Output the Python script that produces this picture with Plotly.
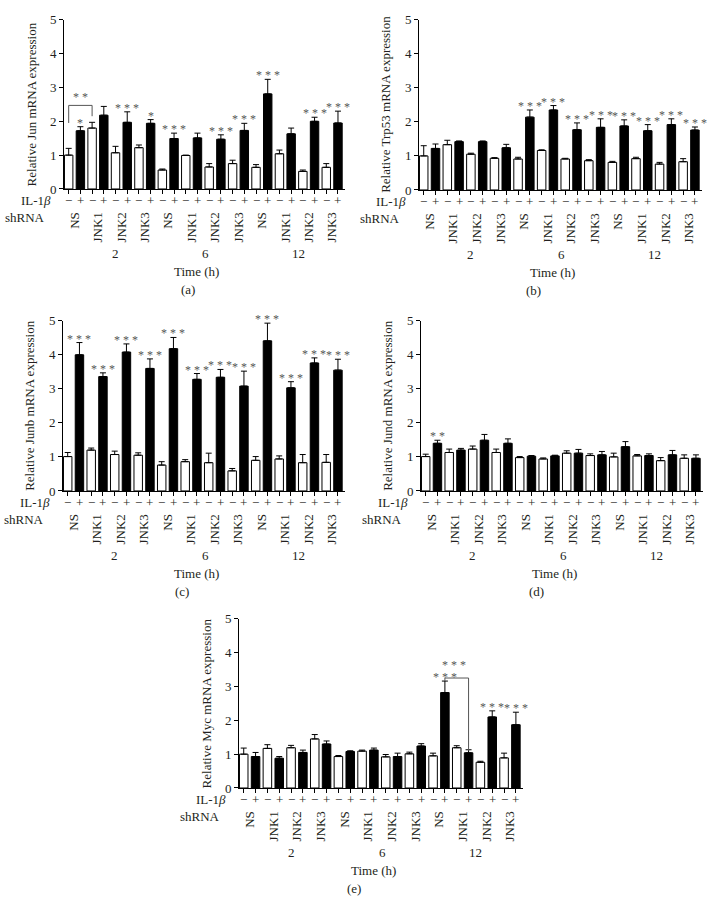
import plotly.graph_objects as go

# ---------------- data ----------------
shrna = ["NS", "JNK1", "JNK2", "JNK3"] * 3
time_h = ["2", "6", "12"]
il1b = ["\u2212", "+"] * 12

jun = [1.00, 1.72, 1.80, 2.18, 1.07, 1.97, 1.22, 1.94, 0.56, 1.49, 0.99, 1.51,
       0.65, 1.47, 0.75, 1.73, 0.64, 2.81, 1.04, 1.63, 0.52, 2.00, 0.64, 1.95]
jun_err = [0.20, 0.12, 0.17, 0.26, 0.19, 0.31, 0.08, 0.11, 0.03, 0.16, 0.01, 0.14,
           0.10, 0.13, 0.10, 0.21, 0.08, 0.43, 0.11, 0.17, 0.04, 0.12, 0.11, 0.35]
jun_sig = ["", "*", "", "", "", "***", "", "*", "", "***", "", "",
           "", "***", "", "***", "", "***", "", "", "", "***", "", "***"]

trp53 = [1.00, 1.22, 1.33, 1.42, 1.05, 1.42, 0.93, 1.24, 0.91, 2.14, 1.16, 2.35,
         0.91, 1.77, 0.86, 1.84, 0.81, 1.88, 0.92, 1.74, 0.76, 1.92, 0.83, 1.76]
trp53_err = [0.30, 0.13, 0.13, 0.02, 0.03, 0.02, 0.02, 0.10, 0.05, 0.21, 0.02, 0.13,
             0.02, 0.20, 0.03, 0.25, 0.03, 0.18, 0.04, 0.18, 0.05, 0.17, 0.09, 0.09]
trp53_sig = ["", "", "", "", "", "", "", "", "", "***", "", "***",
             "", "***", "", "***", "", "***", "", "***", "", "***", "", "***"]

junb = [1.01, 4.00, 1.20, 3.36, 1.07, 4.08, 1.05, 3.60, 0.76, 4.18, 0.86, 3.28,
        0.83, 3.34, 0.59, 3.08, 0.90, 4.41, 0.94, 3.03, 0.83, 3.76, 0.84, 3.55]
junb_err = [0.12, 0.36, 0.06, 0.11, 0.10, 0.24, 0.07, 0.28, 0.10, 0.33, 0.06, 0.17,
            0.28, 0.23, 0.07, 0.44, 0.11, 0.52, 0.09, 0.18, 0.24, 0.15, 0.23, 0.32]
junb_sig = ["", "***"] * 12

jund = [1.01, 1.40, 1.13, 1.20, 1.23, 1.49, 1.13, 1.40, 0.98, 1.02, 0.94, 1.03,
        1.11, 1.11, 1.04, 1.06, 1.00, 1.30, 1.03, 1.04, 0.89, 1.06, 0.96, 0.96]
jund_err = [0.07, 0.09, 0.10, 0.05, 0.09, 0.17, 0.10, 0.13, 0.03, 0.02, 0.03, 0.02,
            0.07, 0.11, 0.05, 0.10, 0.11, 0.15, 0.04, 0.05, 0.09, 0.13, 0.10, 0.10]
jund_sig = ["", "**"] + [""] * 22

myc = [1.00, 0.93, 1.17, 0.88, 1.19, 1.05, 1.45, 1.30, 0.93, 1.08, 1.09, 1.12,
       0.92, 0.93, 1.01, 1.24, 0.95, 2.82, 1.19, 1.04, 0.76, 2.10, 0.89, 1.87]
myc_err = [0.18, 0.12, 0.11, 0.05, 0.07, 0.07, 0.13, 0.09, 0.03, 0.02, 0.03, 0.06,
           0.07, 0.10, 0.05, 0.07, 0.08, 0.34, 0.06, 0.09, 0.03, 0.18, 0.14, 0.37]
myc_sig = [""] * 17 + ["***", "", "", "", "***", "", "***"]

# ---------------- layout (pixels) ----------------
W, H = 712, 916
FONT = "Liberation Serif"
TXT = "#231f20"
STAR = "#555555"

# name, gene, values, errors, stars, left, right, top, bottom, letter x
panels = [
    ("a", "Jun", jun, jun_err, jun_sig, 64, 345, 13, 185, 188),
    ("b", "Trp53", trp53, trp53_err, trp53_sig, 419, 702, 13, 186, 533),
    ("c", "Junb", junb, junb_err, junb_sig, 63, 345, 319, 492, 182),
    ("d", "Jund", jund, jund_err, jund_sig, 421, 703, 319, 492, 536),
    ("e", "Myc", myc, myc_err, myc_sig, 239, 523, 622, 794, 354),
]

def fx(p):
    return p / W

def fy(p):
    return 1 - p / H

def label(x, y, text, xref="paper", size=13, color=TXT, **kw):
    d = dict(x=x, y=y, xref=xref, yref="paper", text=text, showarrow=False,
             xanchor="center", yanchor="middle",
             font=dict(family=FONT, size=size, color=color))
    d.update(kw)
    return d

fig = go.Figure()
annotations = []
shapes = []
xpos = list(range(24))
pair_mid = [2 * j + 0.5 for j in range(12)]

for k, (name, gene, vals, errs, sig, left, right, top, bottom, letter_x) in enumerate(panels):
    n = "" if k == 0 else str(k + 1)
    xa, ya = "x" + n, "y" + n

    fig.add_trace(go.Bar(
        x=xpos, y=vals, width=0.72,
        marker=dict(color=["white", "black"] * 12, line=dict(color="black", width=1)),
        error_y=dict(type="data", symmetric=False, array=errs, arrayminus=[0] * 24,
                     color="black", thickness=1, width=3),
        xaxis=xa, yaxis=ya, hoverinfo="skip", showlegend=False,
    ))

    fig.update_layout(**{
        "xaxis" + n: dict(
            domain=[fx(left), fx(right)], anchor=ya, range=[-0.4, 23.6],
            tickmode="array", tickvals=pair_mid, ticktext=shrna, tickangle=-90,
            ticks="", ticklabelstandoff=17,
            minor=dict(tickmode="array", tickvals=xpos, ticks="outside",
                       ticklen=4, tickcolor="black", showgrid=False),
            tickfont=dict(family=FONT, size=13, color=TXT),
            showline=True, linecolor="black", linewidth=1,
            showgrid=False, zeroline=False, fixedrange=True,
        ),
        "yaxis" + n: dict(
            domain=[fy(bottom), fy(top)], anchor=xa, range=[0, 5],
            tickmode="array", tickvals=[0, 1, 2, 3, 4, 5],
            ticks="outside", ticklen=4, tickcolor="black",
            tickfont=dict(family=FONT, size=13, color=TXT),
            showline=True, linecolor="black", linewidth=1,
            showgrid=False, zeroline=False, fixedrange=True,
        ),
    })

    # significance stars
    for i, s in enumerate(sig):
        if s:
            annotations.append(dict(
                x=i, y=vals[i] + errs[i], xref=xa, yref=ya,
                text=" ".join(s), showarrow=False, xanchor="center",
                yanchor="middle", yshift=4, opacity=0.99,
                font=dict(family=FONT, size=12, color=STAR),
            ))

    # IL-1beta -/+ row
    for i in xpos:
        annotations.append(label(i, fy(bottom + 12), il1b[i], xref=xa, opacity=0.99))

    # time labels
    for j, t in enumerate(time_h):
        annotations.append(label([4.0, 11.7, 19.6][j], fy(bottom + 66), t, xref=xa))

    mid = (left + right) / 2
    annotations += [
        label(fx(left - 11), fy(bottom + 12), "IL-1<i>\u03b2</i>", xanchor="right"),
        label(fx(left - 17), fy(bottom + 29), "shRNA", xanchor="right"),
        label(fx(mid - 8), fy(bottom + 84), "Time (h)"),
        label(fx(letter_x), fy(bottom + 102), "(" + name + ")"),
        label(fx(left - 33), fy((top + bottom) / 2),
              "Relative " + gene + " mRNA expression", textangle=-90),
    ]

# comparison brackets
shapes.append(dict(type="path", xref="x", yref="y",
                   path="M 0,1.95 L 0,2.47 L 2,2.47 L 2,2.15",
                   line=dict(color=STAR, width=1)))
annotations.append(dict(x=1, y=2.47, xref="x", yref="y", text="* *", showarrow=False,
                        xanchor="center", yanchor="middle", yshift=8, opacity=0.99,
                        font=dict(family=FONT, size=12, color=STAR)))
shapes.append(dict(type="path", xref="x5", yref="y5",
                   path="M 17,3.16 L 17,3.25 L 19,3.25 L 19,1.10",
                   line=dict(color=STAR, width=1)))
annotations.append(dict(x=17.8, y=3.25, xref="x5", yref="y5", text="* * *", showarrow=False,
                        xanchor="center", yanchor="middle", yshift=13, opacity=0.99,
                        font=dict(family=FONT, size=12, color=STAR)))

fig.update_layout(
    width=W, height=H,
    margin=dict(l=0, r=0, t=0, b=0),
    plot_bgcolor="white", paper_bgcolor="white",
    showlegend=False, bargap=0.28,
    font=dict(family=FONT, color=TXT),
    annotations=annotations, shapes=shapes,
)

fig.write_html("out.html", config={"displayModeBar": False},
               post_script="document.body.style.margin='0px';")
